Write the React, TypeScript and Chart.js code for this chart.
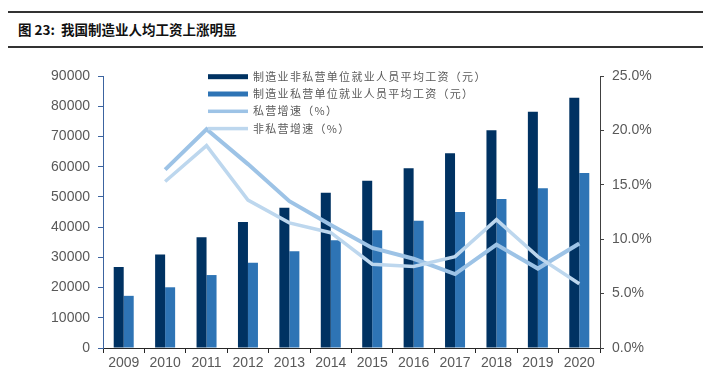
import React, { useEffect, useRef } from "react";
import { Chart, registerables } from "chart.js";

Chart.register(...registerables);

const years = ["2009", "2010", "2011", "2012", "2013", "2014", "2015", "2016", "2017", "2018", "2019", "2020"];
const nonPrivateWage = [26810, 30916, 36665, 41650, 46431, 51369, 55324, 59470, 64452, 72088, 78147, 82783];
const privateWage = [17260, 20090, 24138, 28215, 32035, 35653, 38948, 42126, 44991, 49275, 52858, 57910];
const privateGrowth = [null, 16.4, 20.1, 16.9, 13.5, 11.3, 9.2, 8.2, 6.8, 9.5, 7.3, 9.6];
const nonPrivateGrowth = [null, 15.3, 18.6, 13.6, 11.5, 10.6, 7.7, 7.5, 8.4, 11.8, 8.4, 5.9];

const labelNonPrivate = "制造业非私营单位就业人员平均工资（元）";
const labelPrivate = "制造业私营单位就业人员平均工资（元）";
const labelPrivateGrowth = "私营增速（%）";
const labelNonPrivateGrowth = "非私营增速（%）";

const C_DARK = "#003262";
const C_MID = "#2E74B5";
const C_LINE1 = "#9DC3E6";
const C_LINE2 = "#BDD7EE";
const TICK_COLOR = "#595959";
const FONT = "'Liberation Sans', Arial, sans-serif";

const legendPlugin = {
  id: "customLegend",
  afterDraw(chart: any) {
    const ctx = chart.ctx;
    const items = [
      { label: labelNonPrivate, color: C_DARK, h: 5 },
      { label: labelPrivate, color: C_MID, h: 5 },
      { label: labelPrivateGrowth, color: C_LINE1, h: 3.5 },
      { label: labelNonPrivateGrowth, color: C_LINE2, h: 3.5 },
    ];
    const x0 = 208;
    const ys = [76.7, 94, 111.3, 128.6];
    ctx.save();
    ctx.font = "11px 'Noto Sans CJK SC', sans-serif";
    try { (ctx as any).letterSpacing = "1.3px"; } catch (e) {}
    ctx.textBaseline = "middle";
    ctx.textAlign = "left";
    items.forEach((it, i) => {
      ctx.fillStyle = it.color;
      ctx.fillRect(x0, ys[i] - it.h / 2, 40, it.h);
      ctx.fillStyle = TICK_COLOR;
      ctx.fillText(it.label, 253, ys[i]);
    });
    ctx.restore();
  },
};

export default function App() {
  const ref = useRef<HTMLCanvasElement | null>(null);

  useEffect(() => {
    document.body.style.margin = "0";
    const canvas = ref.current;
    if (!canvas) return;
    const chart = new Chart(canvas, {
      type: "bar",
      data: {
        labels: years,
        datasets: [
          {
            type: "line",
            label: labelNonPrivateGrowth,
            data: nonPrivateGrowth as any,
            yAxisID: "y1",
            borderColor: C_LINE2,
            backgroundColor: C_LINE2,
            borderWidth: 3.5,
            pointRadius: 0,
            tension: 0,
            order: 0,
          },
          {
            type: "line",
            label: labelPrivateGrowth,
            data: privateGrowth as any,
            yAxisID: "y1",
            borderColor: C_LINE1,
            backgroundColor: C_LINE1,
            borderWidth: 4,
            pointRadius: 0,
            tension: 0,
            order: 1,
          },
          {
            type: "bar",
            label: labelNonPrivate,
            data: nonPrivateWage,
            yAxisID: "y",
            backgroundColor: C_DARK,
            categoryPercentage: 0.483,
            barPercentage: 1,
            order: 2,
          },
          {
            type: "bar",
            label: labelPrivate,
            data: privateWage,
            yAxisID: "y",
            backgroundColor: C_MID,
            categoryPercentage: 0.483,
            barPercentage: 1,
            order: 3,
          },
        ],
      },
      options: {
        animation: false,
        responsive: false,
        maintainAspectRatio: false,
        layout: { padding: { top: 76, left: 0, right: 0, bottom: 0 } },
        plugins: {
          legend: { display: false },
          tooltip: { enabled: false },
          title: { display: false },
        },
        scales: {
          x: {
            offset: true,
            grid: {
              offset: true,
              drawOnChartArea: false,
              drawTicks: true,
              tickLength: 5,
              color: "#262626",
            },
            border: { display: true, color: "#262626", width: 1 },
            ticks: { color: TICK_COLOR, font: { family: FONT, size: 14 }, padding: 2, maxRotation: 0 },
            afterFit: (s: any) => { s.height = 29; },
          },
          y: {
            position: "left",
            min: 0,
            max: 90000,
            ticks: {
              stepSize: 10000,
              color: TICK_COLOR,
              font: { family: FONT, size: 14 },
              padding: 8,
              callback: (v: any) => String(Math.round(Number(v))),
            },
            grid: { drawOnChartArea: false, drawTicks: true, tickLength: 5, color: "#3C64A0" },
            border: { display: true, color: "#3C64A0", width: 1 },
            afterFit: (s: any) => { s.width = 103; },
          },
          y1: {
            position: "right",
            min: 0,
            max: 25,
            ticks: {
              stepSize: 5,
              color: TICK_COLOR,
              font: { family: FONT, size: 14 },
              padding: 8,
              callback: (v: any) => Number(v).toFixed(1) + "%",
            },
            grid: { drawOnChartArea: false, drawTicks: true, tickLength: 4, color: "#404040" },
            border: { display: true, color: "#404040", width: 1 },
            afterFit: (s: any) => { s.width = 113; },
          },
        },
      },
      plugins: [legendPlugin],
    });
    return () => chart.destroy();
  }, []);

  return (
    <div style={{ position: "relative", width: 713, height: 377, background: "#fff", overflow: "hidden" }}>
      <div style={{ position: "absolute", left: 8, top: 11, width: 695, height: 2, background: "#333" }} />
      <div
        style={{
          position: "absolute",
          left: 18,
          top: 19,
          fontFamily: "'Noto Sans CJK SC', sans-serif",
          fontWeight: 700,
          fontSize: 13.5,
          color: "#111",
          lineHeight: "20px",
          whiteSpace: "pre",
        }}
      >
        {"图 23:  我国制造业人均工资上涨明显"}
      </div>
      <div style={{ position: "absolute", left: 8, top: 46, width: 695, height: 2, background: "#333" }} />
      <canvas ref={ref} width={713} height={377} style={{ position: "absolute", left: 0, top: 0, width: 713, height: 377 }} />
    </div>
  );
}
